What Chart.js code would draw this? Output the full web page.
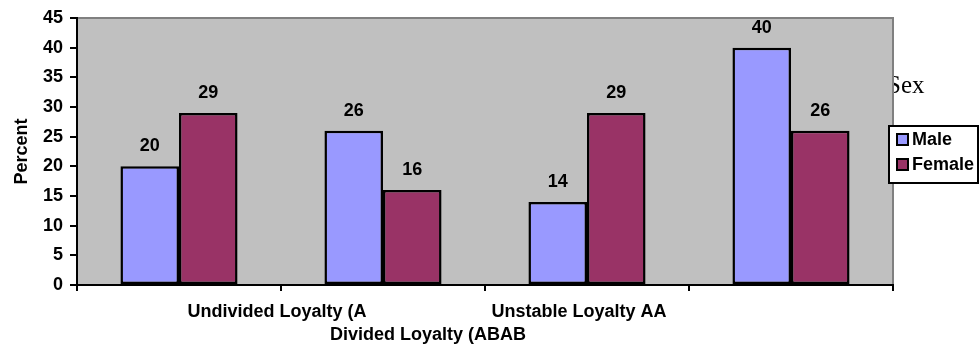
<!DOCTYPE html>
<html>
<head>
<meta charset="utf-8">
<script src="https://cdn.jsdelivr.net/npm/chart.js@4/dist/chart.umd.min.js"></script>
<style>
  body { margin: 0; background: #fff; }
  canvas { display: block; }
</style>
</head>
<body>
<canvas id="loyalty" width="979" height="346"></canvas>
<script>
const categories = ["Undivided Loyalty (A", "Divided Loyalty (ABAB", "Unstable Loyalty AA", ""];
const male = [20, 26, 14, 40];
const female = [29, 16, 29, 26];
const yTicks = [0, 5, 10, 15, 20, 25, 30, 35, 40, 45];

// staggered category labels: shift from category centre, and which row
const labelShift = [98, 45, -8, 0];
const labelRow = [0, 1, 0, 0];

const FONT = "'Liberation Sans', Arial, sans-serif";
const TXT = 18;

const plotBg = {
  id: 'plotBg',
  beforeDraw(chart) {
    const { ctx, chartArea: a } = chart;
    ctx.save();
    // chart title sits partly behind the plot area
    ctx.fillStyle = '#000';
    ctx.font = "25px 'Liberation Serif', 'Times New Roman', serif";
    ctx.textBaseline = 'alphabetic';
    ctx.textAlign = 'left';
    ctx.fillText('Sex', a.right - 6, 93);

    ctx.fillStyle = '#c0c0c0';
    ctx.fillRect(a.left, a.top, a.right - a.left, a.bottom - a.top);
    ctx.strokeStyle = '#808080';
    ctx.lineWidth = 2;
    ctx.beginPath();
    ctx.moveTo(a.left, a.top);
    ctx.lineTo(a.right, a.top);
    ctx.lineTo(a.right, a.bottom);
    ctx.stroke();
    ctx.restore();
  }
};

const barValues = {
  id: 'barValues',
  afterDatasetsDraw(chart) {
    const { ctx } = chart;
    ctx.save();
    ctx.font = 'bold ' + TXT + 'px ' + FONT;
    ctx.fillStyle = '#000';
    ctx.textAlign = 'center';
    ctx.textBaseline = 'alphabetic';
    chart.data.datasets.forEach((ds, i) => {
      chart.getDatasetMeta(i).data.forEach((bar, j) => {
        ctx.fillText(String(ds.data[j]), bar.x, bar.y - 15);
      });
    });
    ctx.restore();
  }
};

const catLabels = {
  id: 'catLabels',
  afterDraw(chart) {
    const { ctx, chartArea: a } = chart;
    const xs = chart.scales.x;
    ctx.save();
    ctx.font = 'bold ' + TXT + 'px ' + FONT;
    ctx.fillStyle = '#000';
    ctx.textAlign = 'center';
    ctx.textBaseline = 'alphabetic';
    categories.forEach((c, i) => {
      if (!c) return;
      const x = xs.getPixelForValue(i) + labelShift[i];
      const y = a.bottom + (labelRow[i] ? 55 : 32);
      ctx.fillText(c, x, y);
    });
    ctx.restore();
  }
};

const boxLegend = {
  id: 'boxLegend',
  afterDraw(chart) {
    const { ctx, chartArea: a } = chart;
    const x = a.right - 4, y = 126, w = 89, h = 57;
    ctx.save();
    ctx.fillStyle = '#fff';
    ctx.fillRect(x, y, w, h);
    ctx.strokeStyle = '#000';
    ctx.lineWidth = 2;
    ctx.strokeRect(x, y, w, h);
    ctx.font = 'bold ' + TXT + 'px ' + FONT;
    ctx.textBaseline = 'middle';
    ctx.textAlign = 'left';
    chart.data.datasets.forEach((ds, i) => {
      const cy = y + 13 + i * 25;
      ctx.fillStyle = ds.backgroundColor;
      ctx.fillRect(x + 8, cy - 5, 11, 11);
      ctx.strokeStyle = '#000';
      ctx.lineWidth = 2;
      ctx.strokeRect(x + 8, cy - 5, 11, 11);
      ctx.fillStyle = '#000';
      ctx.fillText(ds.label, x + 23, cy + 1);
    });
    ctx.restore();
  }
};

new Chart(document.getElementById('loyalty'), {
  type: 'bar',
  data: {
    labels: categories,
    datasets: [
      {
        label: 'Male',
        data: male,
        backgroundColor: '#9999ff',
        borderColor: '#000',
        borderWidth: 2.5,
        borderSkipped: false,
        categoryPercentage: 0.574,
        barPercentage: 1
      },
      {
        label: 'Female',
        data: female,
        backgroundColor: '#993366',
        borderColor: '#000',
        borderWidth: 2.5,
        borderSkipped: false,
        categoryPercentage: 0.574,
        barPercentage: 1
      }
    ]
  },
  options: {
    responsive: false,
    animation: false,
    layout: { padding: { top: 18, right: 86, left: 0, bottom: 0 } },
    plugins: {
      legend: { display: false },
      tooltip: { enabled: false }
    },
    scales: {
      x: {
        offset: true,
        grid: {
          offset: true,
          drawOnChartArea: false,
          drawTicks: true,
          tickLength: 6,
          color: '#000',
          lineWidth: 2
        },
        border: { display: true, color: '#000', width: 2 },
        ticks: { display: false },
        afterFit(scale) { scale.height = 61; }
      },
      y: {
        min: 0,
        max: 45,
        afterBuildTicks(scale) { scale.ticks = yTicks.map(v => ({ value: v })); },
        grid: {
          drawOnChartArea: false,
          drawTicks: true,
          tickLength: 7,
          color: '#000',
          lineWidth: 2
        },
        border: { display: true, color: '#000', width: 2 },
        ticks: {
          color: '#000',
          padding: 7,
          font: { family: FONT, size: TXT, weight: 'bold' }
        },
        title: {
          display: true,
          text: 'Percent',
          color: '#000',
          padding: { top: 11, bottom: 0 },
          font: { family: FONT, size: TXT, weight: 'bold' }
        },
        afterFit(scale) { scale.width = 77; }
      }
    }
  },
  plugins: [plotBg, barValues, catLabels, boxLegend]
});
</script>
</body>
</html>
